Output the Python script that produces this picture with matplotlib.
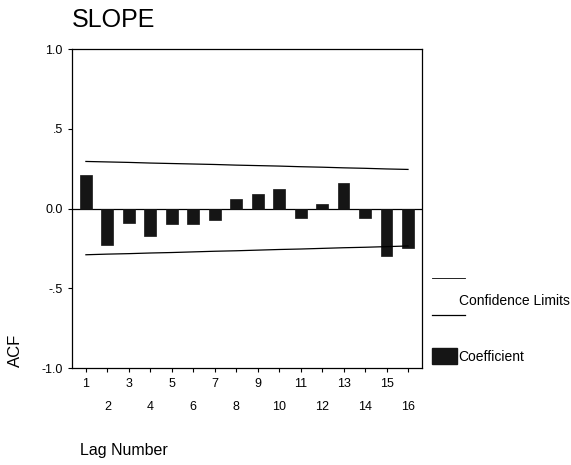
import numpy as np
import matplotlib
matplotlib.use('Agg')
import matplotlib.pyplot as plt

plt.rcParams['font.family'] = ['Liberation Sans', 'DejaVu Sans']

# ACF values
lags = list(range(1, 17))
acf = [0.21, -0.23, -0.09, -0.17, -0.10, -0.10, -0.07, 0.06,
       0.09, 0.125, -0.06, 0.03, 0.16, -0.06, -0.30, -0.245]
upper = [0.295, 0.292, 0.289, 0.285, 0.282, 0.279, 0.276, 0.272,
         0.269, 0.266, 0.262, 0.259, 0.255, 0.252, 0.248, 0.245]
lower = [-0.290, -0.286, -0.283, -0.279, -0.276, -0.272, -0.268, -0.265,
         -0.261, -0.257, -0.254, -0.250, -0.246, -0.243, -0.239, -0.235]
yticks = [-1.0, -0.5, 0.0, 0.5, 1.0]
ylabels = ['-1.0', '-.5', '0.0', '.5', '1.0']

fig = plt.figure(figsize=(5.71, 4.65), dpi=100)
ax = fig.add_axes([0.126, 0.2086, 0.613, 0.686])

ax.bar(lags, acf, width=0.55, color='#151515', edgecolor='#151515', linewidth=0.5, zorder=2)
ax.plot(lags, upper, color='black', lw=0.9, zorder=3)
ax.plot(lags, lower, color='black', lw=0.9, zorder=3)
ax.axhline(0, color='black', lw=0.9, zorder=1)

ax.set_xlim(0.35, 16.65)
ax.set_ylim(-1.0, 1.0)
ax.set_yticks(yticks)
ax.set_yticklabels(ylabels, fontsize=9)
ax.set_xticks(lags)
ax.set_xticklabels([str(l) if l % 2 else '\n' + str(l) for l in lags], fontsize=9, linespacing=2.2)
ax.tick_params(axis='both', length=3, width=0.8, direction='out')
ax.tick_params(axis='x', pad=4)
for s in ax.spines.values():
    s.set_linewidth(0.9)

fig.text(72 / 571, 1 - 20 / 465, 'SLOPE', fontsize=18, va='center', ha='left')
fig.text(80 / 571, 1 - 450 / 465, 'Lag Number', fontsize=11.5, va='center', ha='left')
fig.text(15 / 571, 1 - 350 / 465, 'ACF', fontsize=12, va='center', ha='center', rotation=90)

# legend drawn by hand
fig.add_artist(plt.Line2D([432 / 571, 465 / 571], [1 - 278 / 465] * 2, color='black', lw=0.6))
fig.add_artist(plt.Line2D([432 / 571, 465 / 571], [1 - 315 / 465] * 2, color='black', lw=0.9))
fig.text(459 / 571, 1 - 301 / 465, 'Confidence Limits', fontsize=10, va='center', ha='left')
fig.add_artist(plt.Rectangle((432 / 571, 1 - 364 / 465), 25 / 571, 16 / 465,
                             color='#151515', transform=fig.transFigure))
fig.text(458 / 571, 1 - 357 / 465, 'Coefficient', fontsize=10, va='center', ha='left')

fig.savefig('out.png', dpi=100)
